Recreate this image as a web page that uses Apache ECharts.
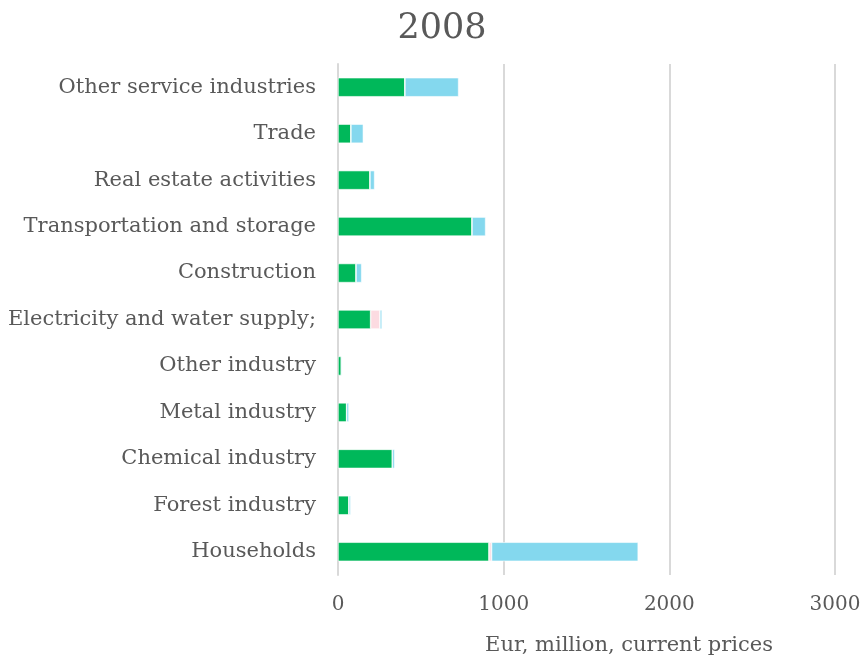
<!DOCTYPE html>
<html><head><meta charset="utf-8">
<script src="https://cdn.jsdelivr.net/npm/echarts@6/dist/echarts.min.js"></script>
<style>html,body{margin:0;padding:0;background:#fff}#c{width:867px;height:659px}</style>
</head><body><div id="c"></div>
<script>
const categories = ["Other service industries","Trade","Real estate activities","Transportation and storage","Construction","Electricity and water supply;","Other industry","Metal industry","Chemical industry","Forest industry","Households"];
const seriesGreen = [404, 78, 193, 809, 109, 197, 20, 52, 328, 66, 911];
const seriesPink  = [0, 0, 0, 0, 0, 56, 0, 0, 0, 0, 16];
const seriesBlue  = [324, 75, 28, 82, 34, 13, 6, 14, 14, 11, 885];
const xTicks = [0, 1000, 2000, 3000];
const FONT = "DejaVu Serif";
const chart = echarts.init(document.getElementById('c'), null, {renderer:'canvas'});
const mk = (name, data, color) => ({
  name, type:'bar', stack:'total', data, barWidth:'41%',
  itemStyle:{color, borderColor:'#ffffff', borderWidth:0.6},
  silent:true
});
chart.setOption({
  animation:false,
  title:{text:'2008', left:437, textAlign:'center', top:6,
    textStyle:{fontFamily:FONT, fontSize:35, fontWeight:'normal', color:'#595959'}},
  grid:{left:338, right:32, top:64, bottom:84, containLabel:false},
  xAxis:{type:'value', min:xTicks[0], max:xTicks[xTicks.length-1], interval:1000,
    axisLine:{show:false}, axisTick:{show:false},
    splitLine:{lineStyle:{color:'#d9d9d9', width:2}},
    axisLabel:{fontFamily:FONT, fontSize:20, color:'#595959', margin:20, formatter:v=>String(v)}},
  yAxis:{type:'category', data:categories, inverse:true,
    axisLine:{show:true, lineStyle:{color:'#d9d9d9', width:2}}, axisTick:{show:false},
    axisLabel:{fontFamily:FONT, fontSize:21, color:'#595959', margin:22}},
  graphic:[{type:'text', x:629, y:646, style:{text:'Eur, million, current prices', fontFamily:FONT, fontSize:21, fill:'#595959', textAlign:'center', textVerticalAlign:'middle'}}],
  series:[mk('Green', seriesGreen, '#00b85a'), mk('Pink', seriesPink, '#fcdbe1'), mk('Blue', seriesBlue, '#84d8ee')]
});
</script></body></html>
